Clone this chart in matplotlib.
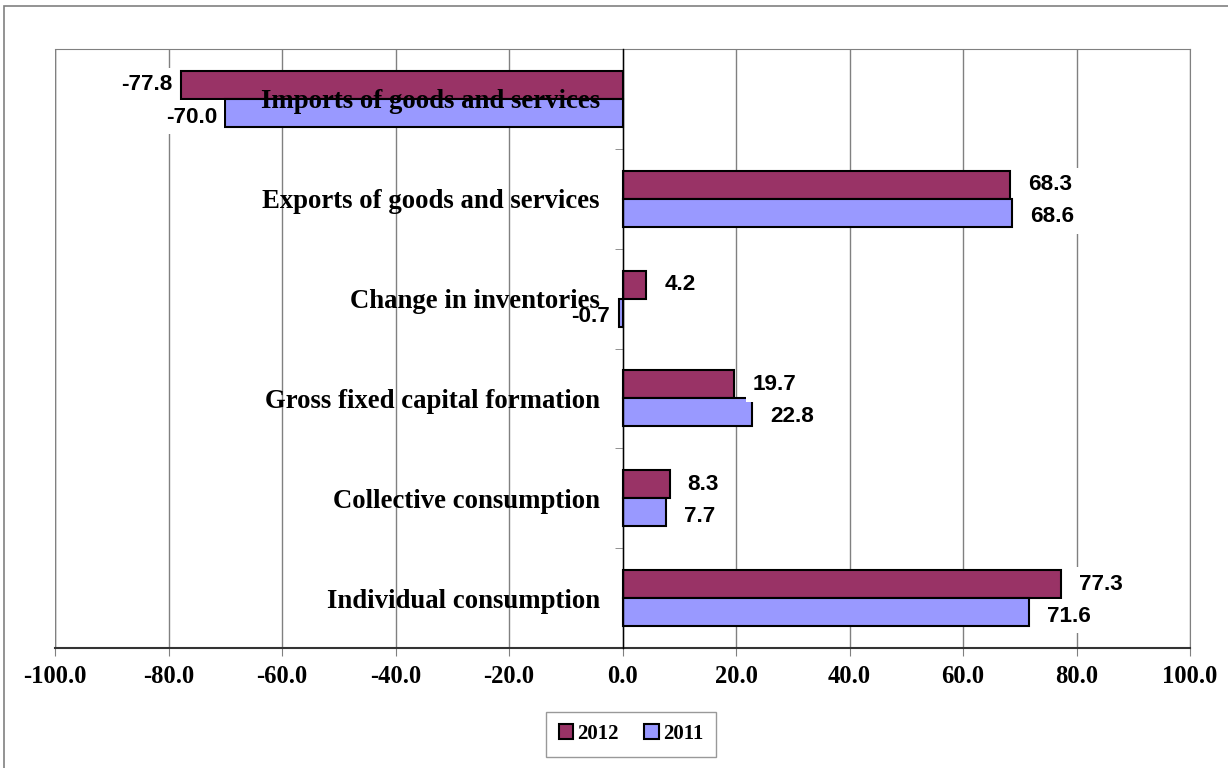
import matplotlib
matplotlib.use("Agg")
from matplotlib import pyplot as plt
import matplotlib.patches as mpatches
import numpy as np

# data (bottom to top as drawn)
categories = ['Individual consumption', 'Collective consumption', 'Gross fixed capital formation',
              'Change in inventories', 'Exports of goods and services', 'Imports of goods and services']
vals_2012 = [77.3, 8.3, 19.7, 4.2, 68.3, -77.8]
vals_2011 = [71.6, 7.7, 22.8, -0.7, 68.6, -70.0]
xticks = [-100, -80, -60, -40, -20, 0, 20, 40, 60, 80, 100]

c2012 = '#993366'
c2011 = '#9999FF'
serif = 'Liberation Serif'
sans = 'Liberation Sans'

fig = plt.figure(figsize=(12.28, 7.68), dpi=100)
ax = fig.add_axes([55/1228, 1-648/768, 1135/1228, 599/768])

y = np.arange(len(categories))
h = 0.28
b1 = ax.barh(y + h/2, vals_2012, height=h, color=c2012, edgecolor='black', linewidth=1.5, zorder=3, label='2012')
b2 = ax.barh(y - h/2, vals_2011, height=h, color=c2011, edgecolor='black', linewidth=1.5, zorder=3, label='2011')

ax.set_xlim(-100, 100)
ax.set_ylim(-0.5, len(categories) - 0.5)
ax.set_xticks(xticks)
ax.set_xticklabels(['%.1f' % t for t in xticks], fontfamily=serif, fontweight='bold', fontsize=17.7)
ax.tick_params(axis='x', direction='out', length=6, color='#808080', pad=6)
ax.grid(axis='x', color='#808080', linewidth=1, zorder=0)

# y axis sits at zero, category names drawn on top of everything
ax.spines['left'].set_position(('data', 0))
ax.spines['left'].set_color('black')
ax.spines['left'].set_linewidth(1)
ax.spines['left'].set_zorder(4)
ax.set_yticks([])
ax.set_yticks(np.arange(0.5, len(categories) - 0.5, 1), minor=True)
ax.tick_params(axis='y', which='minor', direction='out', length=6, color='#808080')
for yi, name in zip(y, categories):
    ax.text(-4, yi, name, ha='right', va='center_baseline', fontfamily=serif, fontweight='bold',
            fontsize=19.3, zorder=7)
for s in ['top', 'right']:
    ax.spines[s].set_color('#808080')
ax.spines['bottom'].set_color('#333333')
ax.spines['bottom'].set_linewidth(1.5)
ax.axvline(-100, color='#808080', linewidth=1, zorder=1)

# data labels (2011 labels sit a touch lower, as in the original)
for bars, vals, dy in [(b1, vals_2012, 0), (b2, vals_2011, -3)]:
    for bar, v in zip(bars, vals):
        yc = bar.get_y() + bar.get_height()/2
        off = 13 if v >= 0 else -6
        ax.annotate('%.1f' % v, xy=(v, yc), xytext=(off, dy), textcoords='offset points',
                    ha='left' if v >= 0 else 'right', va='center',
                    fontfamily=sans, fontweight='bold', fontsize=16.2,
                    bbox=dict(boxstyle='square,pad=0.3', facecolor='white', edgecolor='none'),
                    zorder=5)

handles = [mpatches.Patch(facecolor=c2012, edgecolor='black', linewidth=1.5, label='2012'),
           mpatches.Patch(facecolor=c2011, edgecolor='black', linewidth=1.5, label='2011')]
leg = fig.legend(handles=handles, loc='center', bbox_to_anchor=(631/1228, 1-734/768), ncol=2,
                 prop=dict(family=serif, weight='bold', size=15), frameon=True, fancybox=False,
                 handlelength=0.7, handleheight=0.7, handletextpad=0.2, columnspacing=1.2,
                 borderpad=0.6, edgecolor='#808080')
leg.get_frame().set_linewidth(1)

# outer chart border
fig.patches.append(mpatches.Rectangle((4/1228, -0.01), 1.02, 1-6/768+0.01, transform=fig.transFigure,
                                      fill=False, edgecolor='#808080', linewidth=1.2))

fig.savefig('out.png', dpi=100)
